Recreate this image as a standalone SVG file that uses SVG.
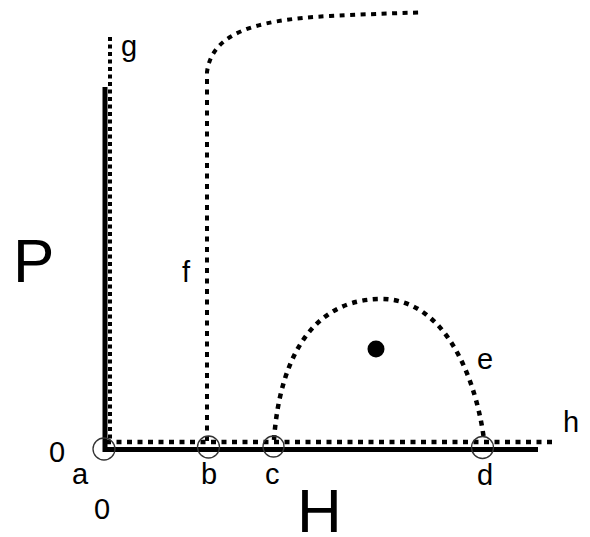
<svg xmlns="http://www.w3.org/2000/svg" width="590" height="537" viewBox="0 0 590 537">
<style>
.lbl{font-family:"Liberation Sans",Arial,sans-serif;font-size:29px;fill:#000}
.big{font-family:"Liberation Sans",Arial,sans-serif;font-size:62px;fill:#000}
.solid{stroke:#000;stroke-width:5;fill:none}
.dot{stroke:#000;stroke-width:4.5;fill:none;stroke-dasharray:5 5.5}
.pt{fill:none;stroke:#333;stroke-width:1.3}
</style>
<rect width="590" height="537" fill="#fff"/>
<g id="connectors">
<line id="axis-p" class="solid" x1="105" y1="87" x2="105" y2="452"/>
<line id="axis-h" class="solid" x1="103" y1="449.5" x2="538" y2="449.5"/>
<line id="g-line" class="dot" x1="110" y1="37" x2="110" y2="441" style="stroke-dasharray:4 3.5;stroke-width:4"/>
<line id="h-line" class="dot" x1="106" y1="442" x2="556" y2="442"/>
<path id="f-line" class="dot" d="M207,441 L207,72 C212,35 250,20 330,16 C370,14 400,13 422,12.5" style="stroke-width:4"/>
<path id="e-curve" class="dot" d="M274,440 C278,380 300,300 380,299 C450,298 478,390 484,440"/>
</g>
<g id="node-a"><circle class="pt" cx="104" cy="449" r="11"/></g>
<g id="node-b"><circle class="pt" cx="208.5" cy="447" r="11"/></g>
<g id="node-c"><circle class="pt" cx="273.5" cy="446.5" r="10.5"/></g>
<g id="node-d"><circle class="pt" cx="482.5" cy="447.5" r="11"/></g>
<g id="node-point"><circle cx="376" cy="349" r="8.5" fill="#000"/></g>
<g id="labels">
<text class="big" x="13" y="282">P</text>
<text class="big" x="297" y="532">H</text>
<text class="lbl" x="49" y="462">0</text>
<text class="lbl" x="72" y="484">a</text>
<text class="lbl" x="94" y="519">0</text>
<text class="lbl" x="201" y="484">b</text>
<text class="lbl" x="265" y="484">c</text>
<text class="lbl" x="477" y="485">d</text>
<text class="lbl" x="477" y="369">e</text>
<text class="lbl" x="563" y="432">h</text>
<text class="lbl" x="182" y="282">f</text>
<text class="lbl" x="121" y="56">g</text>
</g>
</svg>
